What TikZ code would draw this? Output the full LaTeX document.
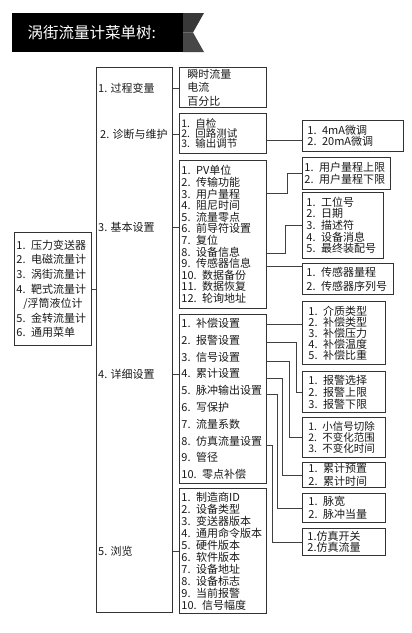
\documentclass[tikz,border=0pt]{standalone}
\usepackage{fontspec}
\setmainfont{Noto Sans CJK SC}
\usepackage{tikz}

\begin{document}
\begin{tikzpicture}[x=1pt,y=-1pt]
  \tikzset{
    box/.style={draw=black!80, line width=0.8pt, anchor=north west, align=left,
          inner ysep=0pt, text=black!90,
          font={\fontsize{11}{#1}\selectfont\lineskiplimit=-20pt}},
    box/.default=12,
    tight/.style={font={\fontsize{10.5}{#1}\selectfont\lineskiplimit=-20pt}},
    item/.style={anchor=west, inner sep=1pt, text=black!90,
          font=\fontsize{11}{12}\selectfont},
    wire/.style={draw=black!75, line width=0.8pt}
  }
  \useasboundingbox (0,0) rectangle (412,633);

  \fill[black] (12,13) rectangle (183,52);
  \fill[black!78] (183,13) -- (204,13) -- (193,32.5) -- (183,32.5) -- cycle;
  \fill[black!72] (183,32.5) -- (193,32.5) -- (204,52) -- (183,52) -- cycle;
  \node[anchor=west, text=white, font=\fontsize{15.5}{16}\selectfont] (title)
        at (24,32.5) {涡街流量计菜单树:};

  \node[box=14.6, text width=73pt, inner xsep=2pt, minimum height=113pt] (device)
        at (14,232) {1. 压力变送器\\2. 电磁流量计\\3. 涡街流量计\\4. 靶式流量计\\
          \hspace*{7pt}/浮筒液位计\\5. 金转流量计\\6. 通用菜单};

  \node[box, text width=76pt, inner xsep=0pt, minimum height=545pt] (menu) at (96,67) {};
  \node[item] (l1) at (97,88) {1. 过程变量};
  \node[item] (l2) at (99,134) {2. 诊断与维护};
  \node[item] (l3) at (97,227) {3. 基本设置};
  \node[item] (l4) at (97,374) {4. 详细设置};
  \node[item] (l5) at (97,551) {5. 浏览};

  \node[box=13.5, text width=71pt, inner xsep=8pt, minimum height=40pt] (process)
        at (179,67) {瞬时流量\\电流\\百分比};
  \node[box, tight=10, text width=83pt, inner xsep=2pt, minimum height=40pt] (diag)
        at (179,113) {1. 自检\\2. 回路测试\\3. 输出调节};
  \node[box=11, text width=91pt, inner xsep=5pt, minimum height=31pt] (trim)
        at (302,120) {1. 4mA微调\\2. 20mA微调};

  \node[box=11.6, text width=83pt, inner xsep=2pt, minimum height=148pt] (basic)
        at (179,160) {1. PV单位\\2. 传输功能\\3. 用户量程\\4. 阻尼时间\\5. 流量零点\\
          6. 前导符设置\\7. 复位\\8. 设备信息\\9. 传感器信息\\10. 数据备份\\
          11. 数据恢复\\12. 轮询地址};
  \node[box=12, text width=84pt, inner xsep=2pt, minimum height=32pt] (range)
        at (302,157) {1. 用户量程上限\\2. 用户量程下限};
  \node[box=11.7, text width=73pt, inner xsep=4pt, minimum height=66pt] (devinfo)
        at (302,192) {1. 工位号\\2. 日期\\3. 描述符\\4. 设备消息\\5. 最终装配号};
  \node[box=14, text width=83pt, inner xsep=4pt, minimum height=31pt] (sensor)
        at (302,263) {1. 传感器量程\\2. 传感器序列号};

  \node[box=16.8, text width=83pt, inner xsep=2pt, minimum height=169pt] (detail)
        at (179,314) {1. 补偿设置\\2. 报警设置\\3. 信号设置\\4. 累计设置\\5. 脉冲输出设置\\
          6. 写保护\\7. 流量系数\\8. 仿真流量设置\\9. 管径\\10. 零点补偿};
  \node[box=11, text width=71pt, inner xsep=6pt, minimum height=63pt] (comp)
        at (302,301) {1. 介质类型\\2. 补偿类型\\3. 补偿压力\\4. 补偿温度\\5. 补偿比重};
  \node[box=12, text width=71pt, inner xsep=6pt, minimum height=41pt] (alarm)
        at (302,371) {1. 报警选择\\2. 报警上限\\3. 报警下限};
  \node[box, tight=10.7, text width=71pt, inner xsep=6pt, minimum height=40pt] (signal)
        at (302,417) {1. 小信号切除\\2. 不变化范围\\3. 不变化时间};
  \node[box=12.5, text width=71pt, inner xsep=6pt, minimum height=25pt] (total)
        at (302,462) {1. 累计预置\\2. 累计时间};
  \node[box=13, text width=71pt, inner xsep=6pt, minimum height=29pt] (pulse)
        at (302,493) {1. 脉宽\\2. 脉冲当量};
  \node[box=11, text width=73pt, inner xsep=5pt, minimum height=27pt] (sim)
        at (302,528) {1.仿真开关\\2.仿真流量};

  \node[box=12, text width=83pt, inner xsep=2pt, minimum height=125pt] (browse)
        at (179,488) {1. 制造商ID\\2. 设备类型\\3. 变送器版本\\4. 通用命令版本\\5. 硬件版本\\
          6. 软件版本\\7. 设备地址\\8. 设备标志\\9. 当前报警\\10. 信号幅度};

  \coordinate (rOut) at (0,140);
  \coordinate (rRange) at (0,193);
  \coordinate (rInfo) at (0,253);
  \coordinate (rSensor) at (0,266);
  \coordinate (rComp) at (0,324);
  \coordinate (rAlarm) at (0,342);
  \coordinate (rSignal) at (0,361);
  \coordinate (rTotal) at (0,378);
  \coordinate (rPulse) at (0,394);
  \coordinate (rSim) at (0,445);

  \draw[wire] (device.east) -- (device.east -| menu.west);
  \draw[wire] (l1 -| menu.east) -- (l1 -| process.west);
  \draw[wire] (l2 -| menu.east) -- (l2 -| diag.west);
  \draw[wire] (l3 -| menu.east) -- (l3 -| basic.west);
  \draw[wire] (l4 -| menu.east) -- (l4 -| detail.west);
  \draw[wire] (l5 -| menu.east) -- (l5 -| browse.west);

  \draw[wire] (rOut -| diag.east) -- (rOut -| trim.west);
  \draw[wire] (rRange -| basic.east) -- ++(21,0) |- (range.west);
  \draw[wire] (rInfo -| basic.east) -- ++(19,0) |- (devinfo.west);
  \draw[wire] (rSensor -| basic.east) -- (rSensor -| sensor.west);

  \draw[wire] (rComp -| detail.east) -- (rComp -| comp.west);
  \draw[wire] (rAlarm -| detail.east) -- ++(30,0) |- (alarm.west);
  \draw[wire] (rSignal -| detail.east) -- ++(23,0) |- (signal.west);
  \draw[wire] (rTotal -| detail.east) -- ++(16,0) |- (total.west);
  \draw[wire] (rPulse -| detail.east) -- ++(11,0) |- (pulse.west);
  \draw[wire] (rSim -| detail.east) -- ++(6,0) |- (sim.west);
  %\node at (206,620) {};
\end{tikzpicture}
\end{document}
